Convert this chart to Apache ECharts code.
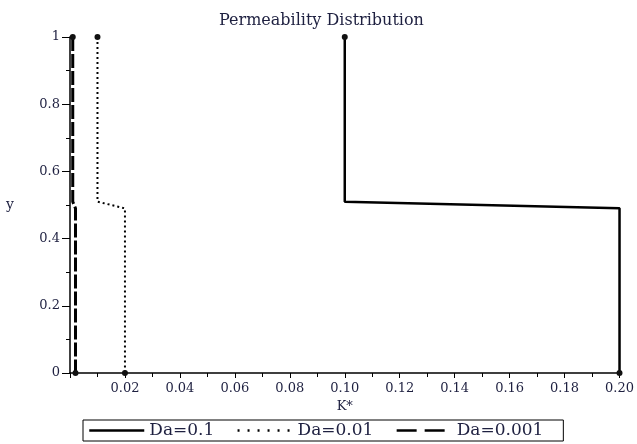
<!DOCTYPE html>
<html>
<head>
<meta charset="utf-8">
<script src="https://cdn.jsdelivr.net/npm/echarts@6/dist/echarts.min.js"></script>
<style>html,body{margin:0;padding:0;background:#fff;}#c{width:637px;height:444px;}</style>
</head>
<body>
<div id="c"></div>
<script>
const seriesNames = ['Da=0.1', 'Da=0.01', 'Da=0.001'];
const da01_x = [0.1, 0.1, 0.2, 0.2];
const da01_y = [1, 0.51, 0.49, 0];
const da001_x = [0.01, 0.01, 0.02, 0.02];
const da001_y = [1, 0.51, 0.49, 0];
const da0001_x = [0.001, 0.001, 0.002, 0.002];
const da0001_y = [1, 0.51, 0.49, 0];
const xTicks = [0.02, 0.04, 0.06, 0.08, 0.10, 0.12, 0.14, 0.16, 0.18, 0.20];
const yTicks = [0, 0.2, 0.4, 0.6, 0.8, 1];

const textColor = '#1e2040';
const font = 'DejaVu Serif';

function build(xs, ys) {
  return xs.map((x, i) => {
    const item = { value: [x, ys[i]] };
    if (i === 0 || i === xs.length - 1) {
      item.symbol = 'circle';
      item.symbolSize = 6;
    }
    return item;
  });
}

const styles = [
  { type: 'solid', width: 2.5, legend: 'solid' },
  { type: [2, 3], width: 2, legend: [2, 8] },
  { type: [14, 3], width: 3, legend: [20, 8] }
];
const dataSets = [[da01_x, da01_y], [da001_x, da001_y], [da0001_x, da0001_y]];

const chart = echarts.init(document.getElementById('c'));
chart.setOption({
  animation: false,
  backgroundColor: '#fff',
  title: {
    text: 'Permeability Distribution',
    left: 214, top: 8,
    textStyle: { fontFamily: font, fontSize: 16, fontWeight: 'normal', color: textColor }
  },
  grid: { left: 70, right: 12, top: 37, bottom: 71 },
  legend: {
    left: 83, top: 420,
    data: seriesNames.map((n, i) => ({
      name: n,
      lineStyle: { type: styles[i].legend, width: 2.5, color: '#000' }
    })),
    itemWidth: 55, itemHeight: 14, itemGap: 22,
    borderColor: '#000', borderWidth: 1, padding: [2, 20, 2, 5],
    itemStyle: { opacity: 0 },
    textStyle: { fontFamily: font, fontSize: 17, color: textColor }
  },
  xAxis: {
    type: 'value', min: 0, max: 0.2, interval: 0.02,
    name: 'K*', nameLocation: 'middle', nameGap: 25,
    nameTextStyle: { fontFamily: font, fontSize: 13, color: textColor },
    axisLine: { show: true, onZero: false, lineStyle: { color: '#000', width: 1.5 } },
    axisTick: { show: true, length: 5, lineStyle: { color: '#000' } },
    minorTick: { show: true, splitNumber: 2, length: 4, lineStyle: { color: '#000' } },
    splitLine: { show: false },
    axisLabel: {
      margin: 9, fontFamily: font, fontSize: 13, color: textColor,
      formatter: v => { const t = xTicks.find(k => Math.abs(k - v) < 1e-9); return t === undefined ? '' : t.toFixed(2); }
    }
  },
  yAxis: {
    type: 'value', min: 0, max: 1, interval: 0.2,
    name: 'y', nameLocation: 'middle', nameGap: 56, nameRotate: 0,
    nameTextStyle: { fontFamily: font, fontSize: 14, color: textColor },
    axisLine: { show: true, onZero: false, lineStyle: { color: '#000', width: 1.5 } },
    axisTick: { show: true, length: 8, lineStyle: { color: '#000' } },
    minorTick: { show: true, splitNumber: 2, length: 4, lineStyle: { color: '#000' } },
    splitLine: { show: false },
    axisLabel: {
      margin: 10, fontFamily: font, fontSize: 13, color: textColor,
      formatter: v => { const t = yTicks.find(k => Math.abs(k - v) < 1e-9); return t === undefined ? '' : String(t); }
    }
  },
  series: seriesNames.map((name, i) => ({
    name, type: 'line', symbol: 'none',
    data: build(dataSets[i][0], dataSets[i][1]),
    lineStyle: { color: '#000', type: styles[i].type, width: styles[i].width },
    itemStyle: { color: '#111' },
    z: 3 - i
  }))
});
</script>
</body>
</html>
